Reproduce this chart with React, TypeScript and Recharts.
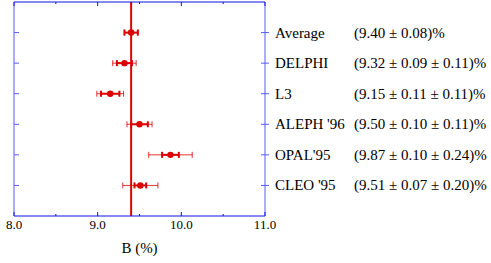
import { ScatterChart, Scatter, XAxis, YAxis, ErrorBar, ReferenceLine } from 'recharts'

const experiments = ['Average', 'DELPHI', 'L3', "ALEPH '96", "OPAL'95", "CLEO '95"]
const rows = [1, 2, 3, 4, 5, 6]
const values = [9.40, 9.32, 9.15, 9.50, 9.87, 9.51]
const statErr = [0.08, 0.09, 0.11, 0.10, 0.10, 0.07]
const totalErr = [0.08, 0.14, 0.16, 0.15, 0.26, 0.21]
const results = [
  '(9.40 ± 0.08)%',
  '(9.32 ± 0.09 ± 0.11)%',
  '(9.15 ± 0.11 ± 0.11)%',
  '(9.50 ± 0.10 ± 0.11)%',
  '(9.87 ± 0.10 ± 0.24)%',
  '(9.51 ± 0.07 ± 0.20)%',
]
const xTicks = [8, 8.5, 9, 9.5, 10, 10.5, 11]
const xLabels = ['8.0', '', '9.0', '', '10.0', '', '11.0']

const data = rows.map((r, i) => ({
  row: r,
  b: values[i],
  stat: statErr[i],
  total: totalErr[i],
}))

const RED = '#dd0000'
const BLUE = '#1010e8'
const SIDE = '#5a5aff'
const FONT = '"Liberation Serif", "Times New Roman", serif'

const BottomTick = ({ x, y, index }: any) => (
  <g>
    <line x1={x} x2={x} y1={y - (xLabels[index] ? 4 : 2)} y2={y} stroke={BLUE} strokeWidth={1} />
    <text x={x} y={y + 13} textAnchor="middle" fill="#000" fontFamily={FONT}
      style={{ fontSize: 13, fontFamily: FONT }}>
      {xLabels[index]}
    </text>
  </g>
)

const TopTick = ({ x, y, index }: any) => (
  <line x1={x} x2={x} y1={y} y2={y + (xLabels[index] ? 4 : 2)} stroke={BLUE} strokeWidth={1} />
)

const LeftTick = ({ x, y }: any) => (
  <line x1={x} x2={x + 5} y1={y} y2={y} stroke={SIDE} strokeWidth={1} />
)

const RightTick = ({ x, y, index }: any) => (
  <g>
    <line x1={x - 4} x2={x + 4} y1={y} y2={y} stroke={SIDE} strokeWidth={1} />
    <text x={x + 10} y={y + 5} fill="#000" style={{ fontSize: 15, fontFamily: FONT }}>
      {experiments[index]}
    </text>
    <text x={x + 89} y={y + 5} fill="#000" style={{ fontSize: 15, fontFamily: FONT }}>
      {results[index]}
    </text>
  </g>
)

const Dot = ({ cx, cy }: any) => <circle cx={cx} cy={cy} r={3.2} fill={RED} />
const NoDot = () => <g />

export default function App() {
  return (
    <div style={{ position: 'absolute', left: 0, top: 0, background: '#fff' }}>
      <ScatterChart width={491} height={263} data={data}
        margin={{ top: 1, right: 0, bottom: 0, left: 0 }}>
        <XAxis xAxisId="bottom" type="number" dataKey="b" domain={[8, 11]} ticks={xTicks}
          orientation="bottom" height={47} stroke={BLUE} tickLine={false} tickSize={0} tickMargin={0}
          tick={<BottomTick />} interval={0} allowDataOverflow
          label={{ value: 'B (%)', position: 'insideBottom', offset: 10, fill: '#000',
            fontFamily: FONT, style: { fontSize: 15, fontFamily: FONT } }} />
        <XAxis xAxisId="top" type="number" dataKey="b" domain={[8, 11]} ticks={xTicks} orientation="top"
          height={1} stroke={BLUE} tickLine={false} tickSize={0} tickMargin={0}
          tick={<TopTick />} interval={0} allowDataOverflow />
        <YAxis yAxisId="left" type="number" dataKey="row" domain={[0, 7]} ticks={rows} reversed
          width={14} stroke={SIDE} tickLine={false} tickSize={0} tickMargin={0}
          tick={<LeftTick />} interval={0} allowDataOverflow />
        <YAxis yAxisId="right" type="number" dataKey="row" orientation="right" domain={[0, 7]} ticks={rows} reversed
          width={226} stroke={SIDE} tickLine={false} tickSize={0} tickMargin={0}
          tick={<RightTick />} interval={0} allowDataOverflow />
        <ReferenceLine xAxisId="bottom" yAxisId="left" x={9.4} stroke={RED} strokeWidth={2} />
        <Scatter xAxisId="top" yAxisId="right" dataKey="b" shape={<NoDot />} isAnimationActive={false} />
        <Scatter xAxisId="bottom" yAxisId="left" dataKey="b" fill={RED} shape={<Dot />}
          isAnimationActive={false}>
          <ErrorBar dataKey="total" direction="x" width={3} stroke={RED} strokeWidth={1}
            strokeOpacity={0.8} isAnimationActive={false} />
          <ErrorBar dataKey="stat" direction="x" width={3} stroke={RED} strokeWidth={2}
            isAnimationActive={false} />
        </Scatter>
      </ScatterChart>
    </div>
  )
}
